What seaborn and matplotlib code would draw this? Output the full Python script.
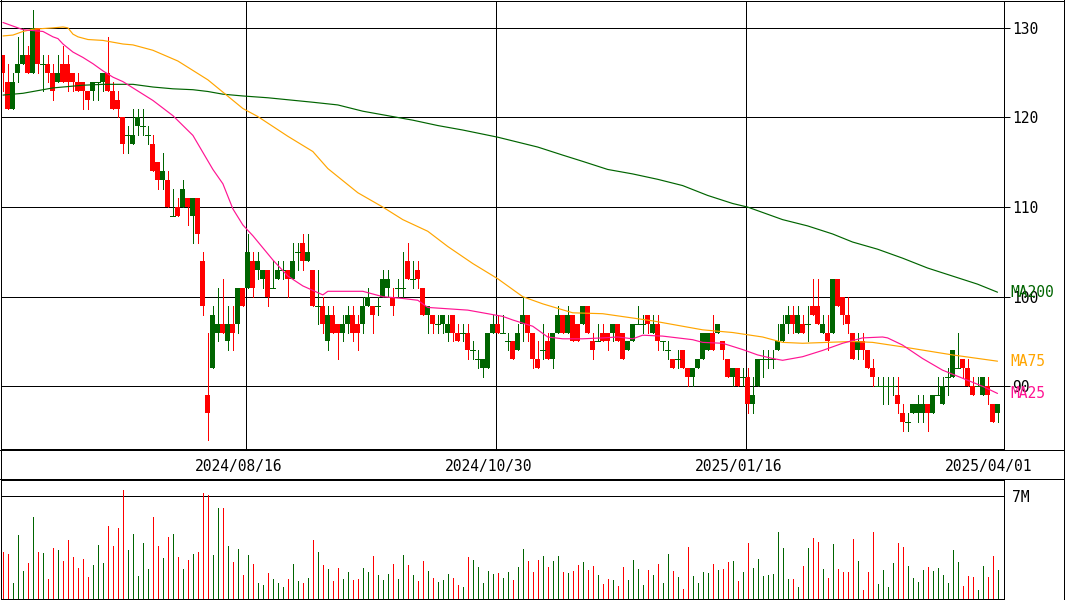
import numpy as np
import pandas as pd
import matplotlib
matplotlib.use("Agg")
import matplotlib.pyplot as plt
import seaborn as sns
from matplotlib.lines import Line2D

# ---------------- data ----------------
opens = [127,124,121,125,126,127,125,130,126,126,125,124,126,126,125,124,124,123,123,124,
         124,125,123,122,120,118,117,119,119,118,117,115,113,113,109,110,110,111,109,111,
         104,89,92,96,97,95,97,97,101,101,104,103,102,103,101,102,103,103,102,105,
         106,104,103,99,99,95,98,97,96,97,98,97,97,99,99,99,100,101,100,101,
         101,104,102,103,101,98,98,97,97,96,98,96,96,96,94,93,92,92,96,97,
         96,95,95,94,97,98,96,93,94,95,93,96,98,96,98,97,97,99,95,95,
         96,96,96,97,96,94,95,97,97,98,96,97,95,94,93,93,94,92,91,92,
         93,94,96,96,95,93,91,92,91,91,88,90,93,93,93,94,95,97,98,96,
         97,97,99,99,96,96,96,102,100,98,96,94,95,94,92,90,90,90,90,89,
         87,86,87,87,87,88,87,89,88,91,91,92,93,92,90,90,89,90,88,87]
highs = [127,126,125,129,130,128,132,130,127,127,126,127,128,127,125,125,124,123,124,124,
         125,129,124,123,120,119,121,121,121,119,118,115,116,114,112,111,113,111,111,111,
         105,96,99,101,102,99,99,101,101,107,105,105,103,103,104,104,104,103,106,106,
         107,107,103,103,100,99,99,97,98,99,99,98,100,101,99,100,103,103,101,102,
         105,106,104,104,101,99,98,98,98,98,98,97,97,97,95,94,93,96,98,98,
         98,96,95,97,100,98,96,95,97,96,96,99,98,99,98,97,99,99,96,97,
         97,96,97,97,96,95,97,99,98,98,98,98,95,95,93,94,94,92,92,93,
         96,96,98,97,95,93,92,92,92,92,91,93,94,94,94,97,98,99,99,99,
         98,99,102,102,98,98,102,102,100,100,96,96,96,94,93,91,91,91,91,91,
         88,87,88,89,89,88,89,91,91,92,94,96,93,93,91,91,91,91,88,88]
lows = [123,121,121,124,126,125,125,125,123,124,122,124,124,123,123,123,121,121,122,122,
        123,123,121,120,116,116,117,118,118,117,114,112,112,110,109,109,110,108,106,106,
        98,84,92,95,96,94,94,96,99,101,100,102,101,99,101,102,102,100,102,103,
        103,104,99,97,96,94,96,93,95,96,95,94,96,99,96,98,100,100,98,100,
        100,102,101,101,98,96,96,96,96,95,95,95,95,93,93,92,91,92,96,96,
        96,94,93,94,95,95,92,92,93,93,92,96,96,96,95,95,97,96,93,95,
        95,94,95,95,93,94,95,97,96,96,96,94,94,93,92,92,92,90,90,92,
        93,94,94,96,93,91,90,90,90,87,87,90,91,92,92,94,95,96,96,96,
        96,95,98,97,96,94,96,99,97,96,93,93,93,92,90,90,88,88,89,87,
        85,85,87,86,86,85,87,89,88,89,91,92,91,90,89,90,89,88,86,86]
closes = [125,121,124,126,127,125,130,126,126,125,123,125,124,124,124,123,123,122,124,124,
          125,123,121,121,117,118,118,120,119,118,114,113,114,110,109,109,112,110,111,107,
          99,87,98,97,96,97,96,101,99,105,101,104,103,100,101,103,103,102,104,105,
          104,105,99,99,97,98,96,96,97,98,96,96,99,100,98,99,102,102,99,101,
          101,102,102,102,98,99,97,97,98,97,96,95,96,94,94,93,93,96,97,96,
          96,95,93,96,98,96,93,92,94,93,96,98,96,98,95,95,99,96,94,95,
          95,95,97,95,93,95,97,97,97,97,97,95,95,94,92,93,92,91,92,93,
          96,96,94,97,94,91,92,90,91,88,89,93,93,93,93,95,97,98,97,98,
          96,97,98,97,97,95,102,99,98,97,93,95,94,92,91,90,90,90,90,88,
          86,86,88,88,88,87,89,89,90,91,94,92,92,90,89,90,91,89,86,88]
volumes_m = [3.19,3.05,1.10,4.33,1.91,2.45,5.55,3.19,3.12,1.37,3.46,3.32,2.58,4.00,2.85,2.11,2.72,1.50,2.31,3.66,
             2.45,4.94,3.59,4.81,7.43,3.32,4.40,1.57,3.80,2.04,5.55,3.59,2.79,4.20,4.40,2.85,2.04,2.65,3.05,3.19,
             7.23,7.10,2.99,6.22,6.22,3.59,2.52,3.39,1.64,2.99,2.38,1.10,0.97,1.77,1.37,1.10,0.83,1.37,2.38,1.24,
             1.10,1.44,4.00,3.19,2.31,2.04,1.24,2.11,1.37,1.84,1.30,1.37,2.11,1.84,2.92,1.64,1.30,1.71,2.38,1.37,
             2.99,2.31,1.64,1.24,2.58,1.91,1.44,1.17,1.30,1.71,1.44,0.97,0.83,2.85,2.65,2.18,1.10,1.91,1.71,1.77,
             1.44,1.84,1.30,2.18,3.39,2.58,1.84,2.65,2.92,2.18,2.58,2.92,1.84,1.77,1.91,2.31,2.52,1.98,2.25,1.64,
             1.03,1.37,1.30,0.90,2.18,1.30,2.65,2.04,0.97,1.98,1.64,2.38,1.10,3.05,1.91,1.50,0.70,3.53,1.57,1.10,
             1.84,1.77,2.38,1.98,2.04,2.52,2.58,1.24,1.84,3.80,2.11,2.72,1.57,1.64,1.71,4.54,3.46,1.37,1.37,0.83,
             2.25,3.46,4.13,3.86,2.04,1.44,3.73,2.04,1.84,1.84,4.07,2.58,0.63,1.84,4.54,1.03,1.98,0.83,2.45,3.80,
             3.53,2.25,1.44,1.17,1.98,2.18,1.91,2.11,1.64,1.10,3.32,2.52,0.90,1.57,1.50,0.63,2.25,1.50,2.92,1.98]

ma25_idx = [0,2,4,8,10,11,12,14,16,18,20,22,24,26,30,34,38,40,42,44,46,48,50,54,57,60,64,65,72,76,
            80,83,85,93,100,102,106,109,112,116,120,123,126,128,132,138,140,144,148,151,154,156,160,164,
            168,172,176,177,180,184,188,192,196,199]
ma25_val = [130.6,130.2,129.8,129.6,129.0,128.8,128.2,127.3,126.7,126.0,125.2,124.5,124.0,123.3,121.9,
            120.2,118.0,116.1,114.2,112.6,109.8,108.0,106.8,104.1,102.3,101.2,100.2,100.6,100.6,100.0,
            99.8,99.6,98.8,98.5,97.8,97.4,96.7,95.5,95.3,95.3,95.4,95.5,95.3,95.7,95.6,95.2,94.9,94.8,
            94.1,93.5,93.1,92.9,93.3,94.0,94.8,95.4,95.5,95.4,94.6,93.1,91.8,90.9,90.0,89.2]
ma75_idx = [0,2,4,6,10,12,13,14,15,17,20,22,24,26,30,35,41,48,51,57,62,65,71,76,80,85,89,94,99,104,
            108,111,114,120,125,130,140,146,152,156,160,170,174,180,190,199]
ma75_val = [129.1,129.2,129.6,129.85,130.0,130.1,130.0,129.3,129.0,128.7,128.6,128.4,128.2,128.1,127.5,
            126.3,124.2,121.0,120.1,117.9,116.2,114.3,111.6,110.0,108.6,107.3,105.6,103.7,102.0,100.0,
            99.2,98.7,98.2,98.1,97.7,97.3,96.3,96.0,95.5,94.9,94.8,95.0,94.9,94.4,93.5,92.8]
ma200_idx = [0,4,6,8,10,12,16,20,26,30,34,38,41,44,48,53,62,67,72,78,82,87,92,99,107,112,116,121,126,
             131,136,141,146,149,156,161,166,170,175,180,185,190,195,199]
ma200_val = [122.5,122.7,122.9,123.1,123.3,123.4,123.6,123.7,123.7,123.4,123.2,123.1,122.9,122.6,122.4,
             122.2,121.7,121.4,120.7,120.1,119.7,119.1,118.6,117.8,116.7,115.8,115.1,114.2,113.7,113.1,
             112.4,111.3,110.4,110.0,108.6,107.9,107.0,106.1,105.3,104.3,103.2,102.3,101.4,100.5]

price_ticks = [90, 100, 110, 120, 130]
date_idx = [49, 99, 149, 199]
date_labels = ["2024/08/16", "2024/10/30", "2025/01/16", "2025/04/01"]
vol_tick = 7
vol_tick_label = "7M"

# ---------------- style ----------------
RED = "#ff0000"
GREEN = "#006400"
PINK = "#ff1493"
ORANGE = "#ffa500"
DKGREEN = "#006400"
PX = 0.72  # one pixel in points at 100 dpi

sns.set_style("white")
plt.rcParams["font.family"] = ["DejaVu Sans Mono", "DejaVu Sans"]
FS = 10.5

W, H = 1065, 600
fig = plt.figure(figsize=(W / 100, H / 100), dpi=100)
fig.patch.set_facecolor("white")

ax = fig.add_axes([0.5 / W, (H - 449) / H, 1003.5 / W, 448 / H])
axv = fig.add_axes([0.5 / W, 1 / H, 1003.5 / W, 119 / H])

x = np.arange(len(opens))
o = np.array(opens, float); h = np.array(highs, float)
l = np.array(lows, float); c = np.array(closes, float)
up = c >= o
cols = np.where(up, GREEN, RED)

# wicks
ax.vlines(x, l, h, colors=cols, linewidth=PX, antialiased=False, zorder=3)
# bodies
body_w = 1.0
nz = c != o
ax.bar(x[nz], np.abs(c - o)[nz], bottom=np.minimum(o, c)[nz], width=body_w,
       color=cols[nz], linewidth=0, antialiased=False, zorder=4)
# doji
ax.hlines(c[~nz], x[~nz] - body_w / 2, x[~nz] + body_w / 2, colors=cols[~nz],
          linewidth=PX, antialiased=False, zorder=4)

# moving averages via seaborn
ma_df = pd.concat([
    pd.DataFrame({"i": ma200_idx, "v": ma200_val, "ma": "MA200"}),
    pd.DataFrame({"i": ma75_idx, "v": ma75_val, "ma": "MA75"}),
    pd.DataFrame({"i": ma25_idx, "v": ma25_val, "ma": "MA25"}),
])
sns.lineplot(data=ma_df, x="i", y="v", hue="ma", estimator=None, sort=False,
             palette={"MA200": DKGREEN, "MA75": ORANGE, "MA25": PINK},
             linewidth=0.85, legend=False, ax=ax, zorder=5)

ax.set_xlim(-0.5, 200.3)
ax.set_ylim(83.0, 133.0)
ax.set_xlabel(""); ax.set_ylabel("")
ax.set_yticks(price_ticks)
ax.set_yticklabels([str(t) for t in price_ticks])
ax.yaxis.tick_right()
ax.tick_params(axis="y", direction="out", length=4, width=PX, pad=2,
               labelsize=FS, colors="black", right=True, left=False)
ax.grid(axis="y", color="black", linewidth=PX)
ax.grid(axis="x", visible=False)
for gi in date_idx[:-1]:
    ax.axvline(gi - 0.3, color="black", linewidth=PX, zorder=1)
ax.set_axisbelow(True)
ax.set_xticks([d - 1.8 for d in date_idx])
ax.set_xticklabels(date_labels)
ax.tick_params(axis="x", length=0, pad=7, labelsize=FS, colors="black")
for s in ax.spines.values():
    s.set_color("black"); s.set_linewidth(PX); s.set_visible(True)

# MA labels (they overlap the axis numbers in the reference as well)
for name, vals, col in [("MA200", ma200_val, DKGREEN), ("MA75", ma75_val, ORANGE), ("MA25", ma25_val, PINK)]:
    ax.annotate(name, xy=(1.0, vals[-1]), xycoords=("axes fraction", "data"),
                xytext=(4.5, 0), textcoords="offset points", va="center", ha="left",
                fontsize=FS, color=col, annotation_clip=False)

# volume
axv.vlines(x, 0, volumes_m, colors=cols, linewidth=PX, antialiased=False)
axv.set_xlim(-0.5, 200.3)
axv.set_ylim(0, 8.1)
axv.set_xticks([])
axv.set_yticks([vol_tick])
axv.set_yticklabels([vol_tick_label])
axv.yaxis.tick_right()
axv.tick_params(axis="y", direction="out", length=0, pad=6, labelsize=FS, colors="black",
                right=True, left=False)
axv.grid(axis="y", color="black", linewidth=PX)
axv.set_axisbelow(True)
for s in axv.spines.values():
    s.set_color("black"); s.set_linewidth(PX); s.set_visible(True)

# outer frame and separators
frame = fig.add_axes([0, 0, 1, 1], facecolor="none")
frame.set_xlim(0, W); frame.set_ylim(H, 0); frame.axis("off")
for yy in [0.5, 449.5, 478.5, 599.5]:
    frame.add_line(Line2D([0, 1064], [yy, yy], color="black", linewidth=PX, antialiased=False))
for xx in [0.5, 1063.5]:
    frame.add_line(Line2D([xx, xx], [0, 600], color="black", linewidth=PX, antialiased=False))

fig.savefig("out.png", dpi=100, facecolor="white")
